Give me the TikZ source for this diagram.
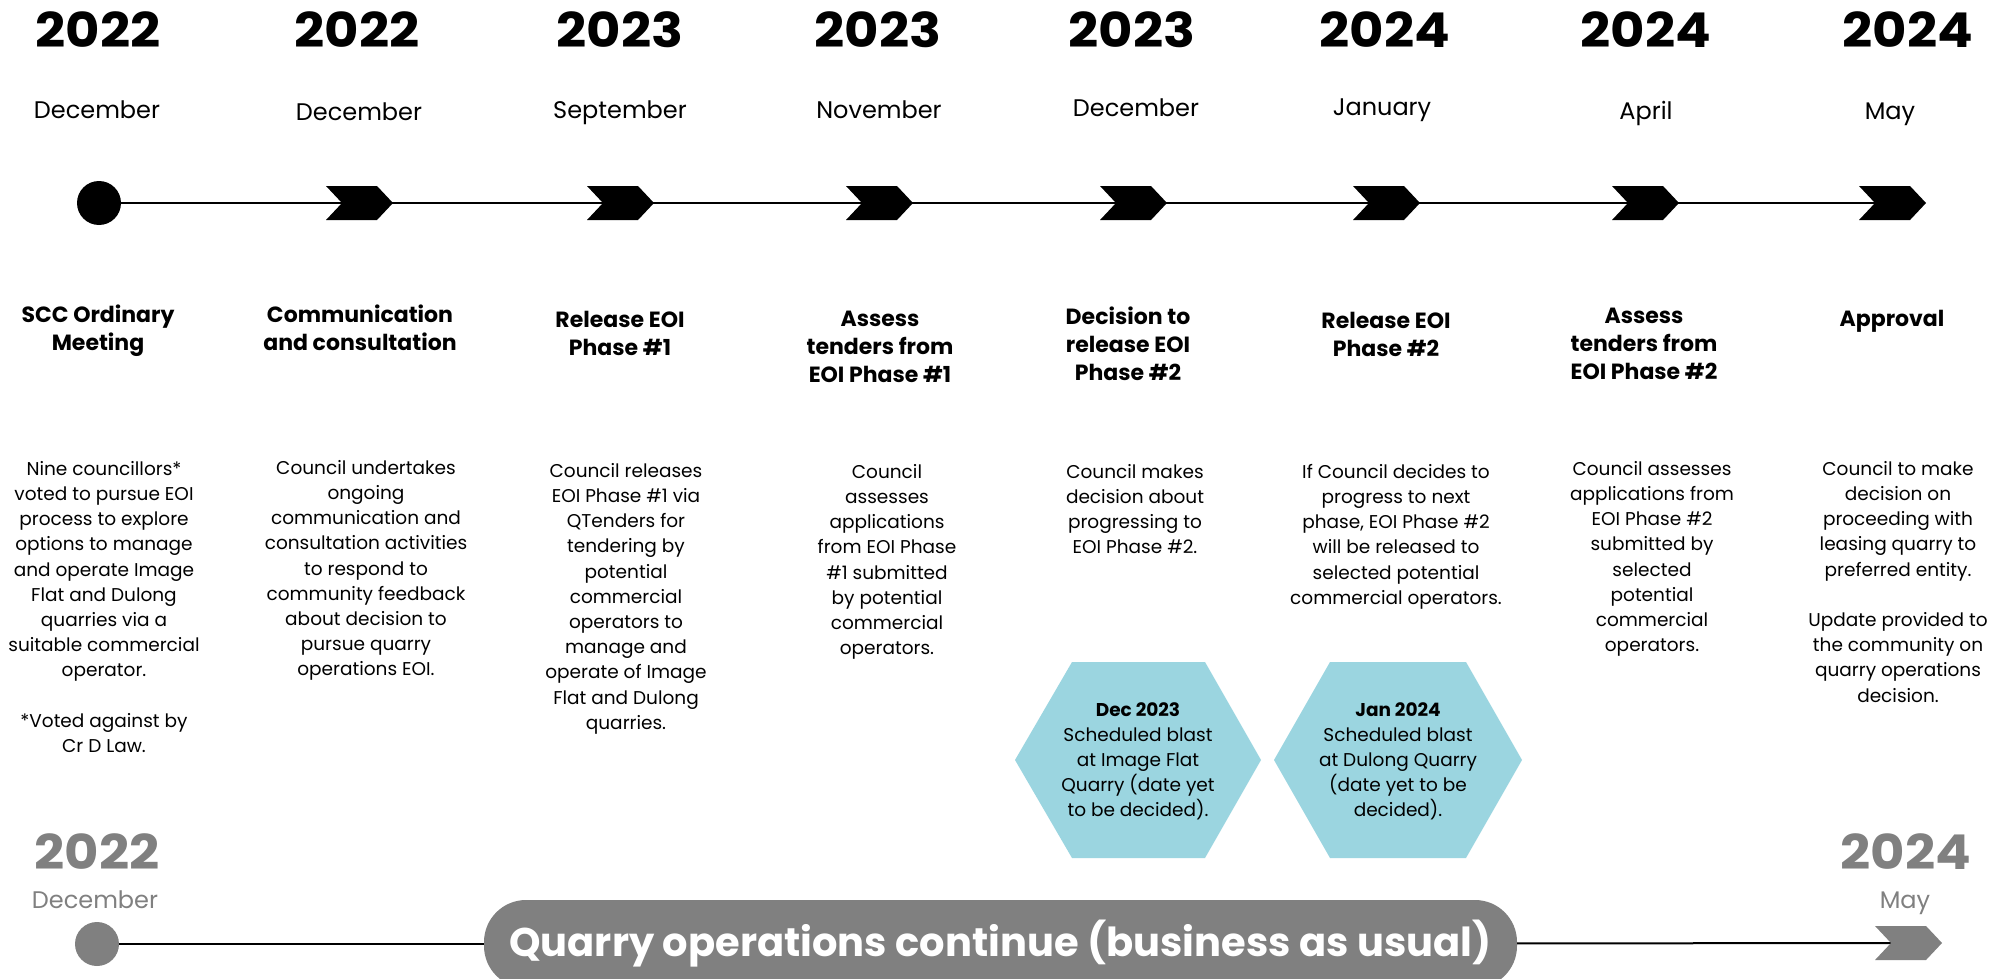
\documentclass[tikz,border=0pt]{standalone}
\usepackage{fontspec}
\setmainfont{Poppins}
\newfontfamily\pp{Poppins}
\newfontfamily\yrf{Poppins}[FakeStretch=1.1]
\newcommand\fsz[2]{\fontsize{#1}{#2}\selectfont}
\definecolor{hexblue}{RGB}{155,213,224}
\definecolor{midgray}{RGB}{128,128,128}
\tikzset{
  yearlbl/.style={anchor=base, inner sep=0pt, font=\yrf\bfseries\fsz{48}{56}},
  monthlbl/.style={anchor=base, inner sep=0pt, font=\pp\fsz{24}{28}},
  headlbl/.style={anchor=north, inner sep=0pt, align=center, font=\pp\bfseries\fsz{22}{28}},
  bodylbl/.style={anchor=north, inner sep=0pt, align=center, font=\pp\fsz{18.5}{25.2}},
  chev/.pic={\fill[#1] (-33,-17) -- (18,-17) -- (34,0) -- (18,17) -- (-33,17) -- (-17,0) -- cycle;},
  conn/.style={line width=2pt},
  hexshape/.style={fill=hexblue},
}
\begin{document}
\begin{tikzpicture}[x=1pt,y=-1pt]
\useasboundingbox (0,0) rectangle (2001,979);
\clip (0,0) rectangle (2001,979);
\fill[white] (0,0) rectangle (2001,979);

% years
\node[yearlbl] (y1) at (98,48) {2022};
\node[yearlbl] (y2) at (357,48) {2022};
\node[yearlbl] (y3) at (620,48) {2023};
\node[yearlbl] (y4) at (878,48) {2023};
\node[yearlbl] (y5) at (1132,48) {2023};
\node[yearlbl] (y6) at (1385,48) {2024};
\node[yearlbl] (y7) at (1646,48) {2024};
\node[yearlbl] (y8) at (1908,48) {2024};

% months
\node[monthlbl] (m1) at (97,119) {December};
\node[monthlbl] (m2) at (359,121) {December};
\node[monthlbl] (m3) at (620,118) {September};
\node[monthlbl] (m4) at (879,118) {November};
\node[monthlbl] (m5) at (1136,117) {December};
\node[monthlbl] (m6) at (1382,116) {January};
\node[monthlbl] (m7) at (1646,120) {April};
\node[monthlbl] (m8) at (1890,120) {May};

% top timeline
\coordinate (t1) at (359,203);
\coordinate (t2) at (620,203);
\coordinate (t3) at (879,203);
\coordinate (t4) at (1133,203);
\coordinate (t5) at (1386,203);
\coordinate (t6) at (1645,203);
\coordinate (t7) at (1892,203);
\node[circle, fill=black, minimum size=44pt, inner sep=0pt] (t0) at (99,203) {};
\draw[conn] (t0) -- (t7);
\foreach \c in {t1,t2,t3,t4,t5,t6,t7} { \pic at (\c) {chev=black}; }

% headings
\node[headlbl] (h1) at (98,305) {SCC Ordinary\\Meeting};
\node[headlbl] (h2) at (360,305) {Communication\\and consultation};
\node[headlbl] (h3) at (620,311) {Release EOI\\Phase \#1};
\node[headlbl] (h4) at (880,311) {Assess\\tenders from\\EOI Phase \#1};
\node[headlbl] (h5) at (1128,307) {Decision to\\release EOI\\Phase \#2};
\node[headlbl] (h6) at (1386,312) {Release EOI\\Phase \#2};
\node[headlbl] (h7) at (1644,308) {Assess\\tenders from\\EOI Phase \#2};
\node[headlbl] (h8) at (1892,310) {Approval};

% bodies
\node[bodylbl] (d1) at (104,461) {Nine councillors*\\voted to pursue EOI\\process to explore\\options to manage\\and operate Image\\Flat and Dulong\\quarries via a\\suitable commercial\\operator.\\[25.2pt]*Voted against by\\Cr D Law.};
\node[bodylbl] (d2) at (366,460) {Council undertakes\\ongoing\\communication and\\consultation activities\\to respond to\\community feedback\\about decision to\\pursue quarry\\operations EOI.};
\node[bodylbl] (d3) at (626,463) {Council releases\\EOI Phase \#1 via\\QTenders for\\tendering by\\potential\\commercial\\operators to\\manage and\\operate of Image\\Flat and Dulong\\quarries.};
\node[bodylbl] (d4) at (887,464) {Council\\assesses\\applications\\from EOI Phase\\\#1 submitted\\by potential\\commercial\\operators.};
\node[bodylbl] (d5) at (1135,464) {Council makes\\decision about\\progressing to\\EOI Phase \#2.};
\node[bodylbl] (d6) at (1396,464) {If Council decides to\\progress to next\\phase, EOI Phase \#2\\will be released to\\selected potential\\commercial operators.};
\node[bodylbl] (d7) at (1652,461) {Council assesses\\applications from\\EOI Phase \#2\\submitted by\\selected\\potential\\commercial\\operators.};
\node[bodylbl] (d8) at (1898,461) {Council to make\\decision on\\proceeding with\\leasing quarry to\\preferred entity.\\[25.2pt]Update provided to\\the community on\\quarry operations\\decision.};

% hexagons
\fill[hexshape] (1015,760) -- (1072,662) -- (1205,662) -- (1261,760) -- (1205,858) -- (1072,858) -- cycle;
\fill[hexshape] (1274,760) -- (1330,662) -- (1466,662) -- (1522,760) -- (1466,858) -- (1330,858) -- cycle;
\node[bodylbl] (x1) at (1138,702) {\textbf{Dec 2023}\\Scheduled blast\\at Image Flat\\Quarry (date yet\\to be decided).};
\node[bodylbl] (x2) at (1398,702) {\textbf{Jan 2024}\\Scheduled blast\\at Dulong Quarry\\(date yet to be\\decided).};

% bottom timeline
\node[yearlbl, text=midgray] (by1) at (97,869) {2022};
\node[monthlbl, text=midgray] (bm1) at (95,908) {December};
\node[yearlbl, text=midgray] (by2) at (1906,869) {2024};
\node[monthlbl, text=midgray] (bm2) at (1905,908) {May};
\node[circle, fill=midgray, minimum size=44pt, inner sep=0pt] (b0) at (97,944) {};
\coordinate (b1) at (1908,943);
\node[fill=midgray, rounded corners=42pt, minimum width=1033pt, minimum height=88pt, inner sep=0pt,
      text=white, font=\pp\bfseries\fsz{40}{48}] (pill) at (1000.5,944) {Quarry operations continue (business as usual)};
\draw[conn] (b0) -- (pill);
\draw[conn] (pill) -- (b1);
\pic at (b1) {chev=midgray};
\end{tikzpicture}
\end{document}
